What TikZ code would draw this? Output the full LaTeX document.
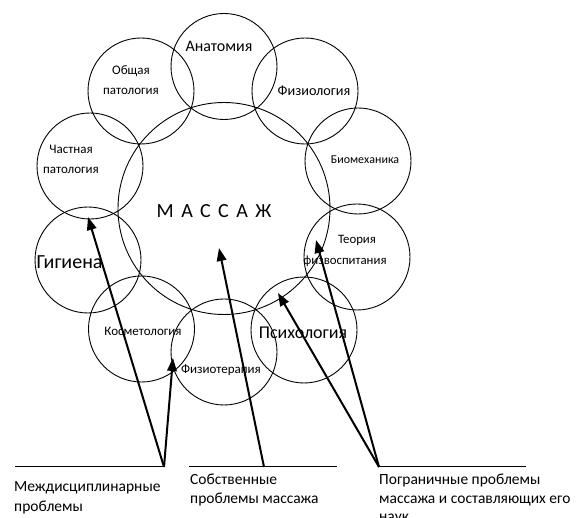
\documentclass[tikz,border=0pt]{standalone}
\usepackage{fontspec}
\setmainfont{Carlito}
\usetikzlibrary{arrows.meta}
\begin{document}
\begin{tikzpicture}[x=1pt,y=-1pt,
  ring/.style={draw, circle, line width=0.9pt, minimum size=106pt, inner sep=0pt},
  bigring/.style={draw, circle, line width=0.9pt, minimum size=212pt, inner sep=0pt},
  lbl/.style={inner sep=0pt, align=center},
  captext/.style={inner sep=0pt, align=left, anchor=north west, font=\fontsize{15.5}{18.5}\selectfont},
  arr/.style={line width=2pt, -{Triangle[length=13pt,width=9.5pt]}},
  baseline/.style={line width=1pt}]
\useasboundingbox (0,0) rectangle (576,518);
% circles
\node[bigring] (mass) at (224,208.5) {};
\node[ring] (anat) at (224,66.5) {};
\node[ring] (obsh) at (141,91) {};
\node[ring] (fiziol) at (305,91) {};
\node[ring] (chast) at (90,166) {};
\node[ring] (biom) at (358,161) {};
\node[ring] (teor) at (357,257) {};
\node[ring] (gig) at (88,260) {};
\node[ring] (kosm) at (141.5,329) {};
\node[ring] (fizter) at (224,352) {};
\node[ring] (psih) at (304,330) {};
% labels
\node[lbl, font=\fontsize{16}{18}\selectfont] (tanat) at (219,46) {Анатомия};
\node[lbl, font=\fontsize{13}{20}\selectfont] (tobsh) at (131,80) {Общая\\патология};
\node[lbl, font=\fontsize{14.2}{18}\selectfont] (tfiziol) at (314,91) {Физиология};
\node[lbl, font=\fontsize{13}{20}\selectfont] (tchast) at (71,159) {Частная\\патология};
\node[lbl, font=\fontsize{12}{18}\selectfont] (tbiom) at (365,160) {Биомеханика};
\node[lbl, font=\fontsize{20}{24}\selectfont] (tmass) at (214,211) {\addfontfeatures{LetterSpace=38}МАССАЖ};
\node[lbl, font=\fontsize{12.8}{21.5}\selectfont] (tteor) at (345,251) {\hspace*{24pt}Теория\\физвоспитания};
\node[lbl, font=\fontsize{20}{24}\selectfont] (tgig) at (69.5,262) {Гигиена};
\node[lbl, font=\fontsize{13}{18}\selectfont] (tkosm) at (143,331) {Косметология};
\node[lbl, font=\fontsize{13}{18}\selectfont] (tfizter) at (221,370) {Физиотерапия};
\node[lbl, font=\fontsize{18}{22}\selectfont] (tpsih) at (303,333) {Психология};
% bottom lines
\coordinate (l1a) at (15,467); \coordinate (l1b) at (164,467);
\coordinate (l2a) at (189,467); \coordinate (l2b) at (337,467);
\coordinate (l3a) at (379,467); \coordinate (l3b) at (526,467);
\coordinate (m2) at (264,467);
\draw[baseline] (l1a) -- (l1b);
\draw[baseline] (l2a) -- (l2b);
\draw[baseline] (l3a) -- (l3b);
% arrow tips
\coordinate (t1) at (88,217);
\coordinate (t2) at (173,358);
\coordinate (t3) at (219,248);
\coordinate (t4) at (278,293);
\coordinate (t5) at (316,240);
\draw[arr] (l1b) -- (t1);
\draw[arr] (l1b) -- (t2);
\draw[arr] (m2) -- (t3);
\draw[arr] (l3a) -- (t4);
\draw[arr] (l3a) -- (t5);
% captions
\node[captext, font=\fontsize{15.5}{20.5}\selectfont] (c1) at (14,481) {Междисциплинарные\\проблемы};
\node[captext] (c2) at (190,474) {Собственные\\проблемы массажа};
\node[captext] (c3) at (379,474) {Пограничные проблемы\\массажа и составляющих его\\наук};
\end{tikzpicture}
\end{document}
